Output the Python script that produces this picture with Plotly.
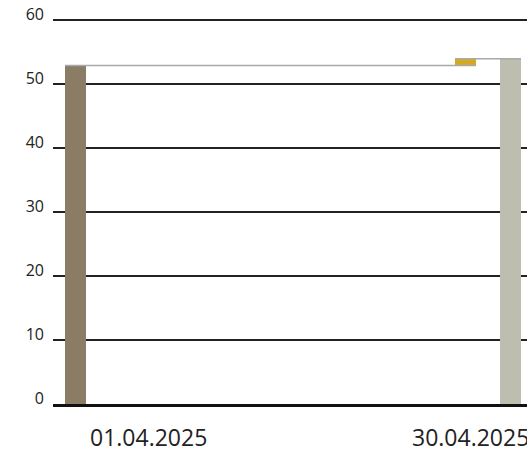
import plotly.graph_objects as go
import pandas as pd

# Data
dates = ["2025-04-01", "2025-04-27", "2025-04-30"]
labels = ["01.04.2025", "30.04.2025"]
start_value = 52.9
change_value = 1.05
end_value = 53.95
y_ticks = [0, 10, 20, 30, 40, 50, 60]

colors = ["#8a7c65", "#d4aa22", "#bdbdb0"]
bar_days = 1.4

ts = [pd.Timestamp(d) for d in dates]
half = pd.Timedelta(days=bar_days / 2)
width_ms = bar_days * 86400000

fig = go.Figure()
fig.add_trace(go.Bar(
    x=dates,
    y=[start_value, change_value, end_value],
    base=[0, start_value, 0],
    width=[width_ms] * 3,
    marker=dict(color=colors, line=dict(width=0)),
    hoverinfo="skip",
))

# connectors
cx = [ts[0] - half, ts[1] + half, None, ts[1] - half, ts[2] + half]
cy = [start_value, start_value, None, start_value + change_value, start_value + change_value]
fig.add_trace(go.Scatter(
    x=cx, y=cy, mode="lines",
    line=dict(color="#a9a9a9", width=1.6),
    hoverinfo="skip", connectgaps=False,
))

annots = []
label_pos = [0.074, 0.753]
for lab, px in zip(labels, label_pos):
    annots.append(dict(
        text=lab, xref="paper", yref="paper", x=px, y=0, yshift=-33,
        xanchor="left", yanchor="middle", showarrow=False,
        font=dict(family="Open Sans", size=23, color="#222222"),
    ))

fig.update_layout(
    width=527, height=452,
    margin=dict(l=53, r=0, t=17, b=48, pad=0, autoexpand=False),
    plot_bgcolor="white", paper_bgcolor="white",
    showlegend=False,
    bargap=0,
    annotations=annots,
    xaxis=dict(
        type="date", automargin=False,
        range=[ts[0] - pd.Timedelta(days=1.5), ts[2] + pd.Timedelta(days=1.1)],
        showgrid=False, showticklabels=False, zeroline=False,
        showline=True, linewidth=3, linecolor="#111111",
        layer="above traces", ticks="",
    ),
    yaxis=dict(
        range=[0, 60.47], tickvals=y_ticks, automargin=False,
        showgrid=True, gridcolor="#222222", gridwidth=1.5,
        zeroline=False, showline=False, ticks="",
        ticklabelshift=-6, ticklabelstandoff=8, ticklabeloverflow="allow",
        tickfont=dict(family="Open Sans", size=16, color="#222222"),
    ),
)

fig.write_html(
    "out.html",
    config={"displayModeBar": False},
    post_script="document.body.style.margin='0';document.body.style.overflow='hidden';",
)
